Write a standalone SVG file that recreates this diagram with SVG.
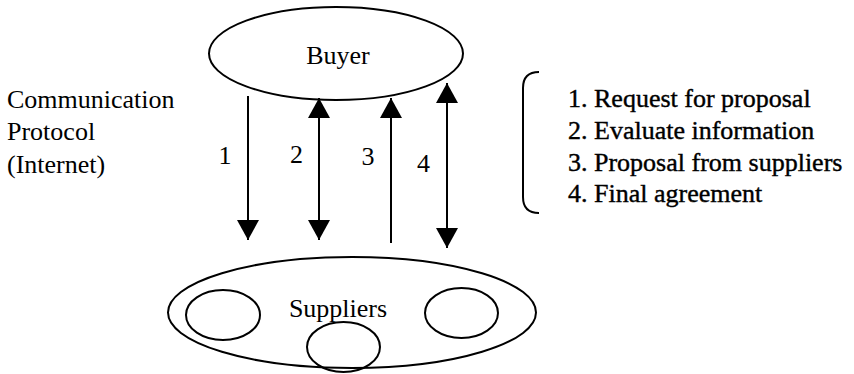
<svg xmlns="http://www.w3.org/2000/svg" width="854" height="374" viewBox="0 0 854 374">
  <style>
    .shape { fill: none; stroke: #000; stroke-width: 2; }
    .link { fill: none; stroke: #000; stroke-width: 2; }
    text { font-family: 'Liberation Serif', 'DejaVu Serif', serif; font-size: 26px; fill: #000; }
    .mid { text-anchor: middle; }
    .heavy { stroke: #000; stroke-width: 0.4; }
  </style>
  <defs>
    <marker id="head" markerUnits="userSpaceOnUse" markerWidth="20" markerHeight="22" refX="20" refY="11" orient="auto-start-reverse">
      <path d="M0,0 L20,11 L0,22 z" fill="#000"/>
    </marker>
  </defs>
  <rect width="854" height="374" fill="#fff"/>

  <!-- Buyer -->
  <g id="buyer">
    <ellipse class="shape" cx="336" cy="53.5" rx="127" ry="46.5"/>
    <text class="mid" x="338" y="64">Buyer</text>
  </g>

  <!-- Suppliers -->
  <g id="suppliers">
    <ellipse class="shape" cx="352" cy="312.5" rx="184" ry="55.5"/>
    <ellipse class="shape" cx="223" cy="315" rx="37" ry="25"/>
    <ellipse class="shape" cx="461.5" cy="313" rx="36.5" ry="25"/>
    <ellipse class="shape" cx="343.5" cy="347" rx="36.5" ry="25"/>
    <text class="mid" x="338" y="317">Suppliers</text>
  </g>

  <!-- Side caption -->
  <g id="protocol">
    <text x="7" y="108">Communication</text>
    <text x="7" y="140">Protocol</text>
    <text x="7" y="173">(Internet)</text>
  </g>

  <!-- Step legend -->
  <g id="legend">
    <path class="shape" d="M539,72 Q523,72 523,88 L523,197 Q523,213 539,213"/>
    <text class="heavy" x="568" y="107">1. Request for proposal</text>
    <text class="heavy" x="568" y="139">2. Evaluate information</text>
    <text class="heavy" x="568" y="171">3. Proposal from suppliers</text>
    <text class="heavy" x="568" y="202">4. Final agreement</text>
  </g>

  <!-- Message flows between buyer and suppliers -->
  <g id="connectors">
    <line class="link" x1="248" y1="96" x2="248" y2="240" marker-end="url(#head)"/>
    <line class="link" x1="319" y1="98" x2="319" y2="240" marker-start="url(#head)" marker-end="url(#head)"/>
    <line class="link" x1="391" y1="243" x2="391" y2="98" marker-end="url(#head)"/>
    <line class="link" x1="447" y1="83" x2="447" y2="248" marker-start="url(#head)" marker-end="url(#head)"/>
    <text class="mid" x="225" y="164">1</text>
    <text class="mid" x="296.5" y="163">2</text>
    <text class="mid" x="368" y="165">3</text>
    <text class="mid" x="423.5" y="172">4</text>
  </g>
</svg>
